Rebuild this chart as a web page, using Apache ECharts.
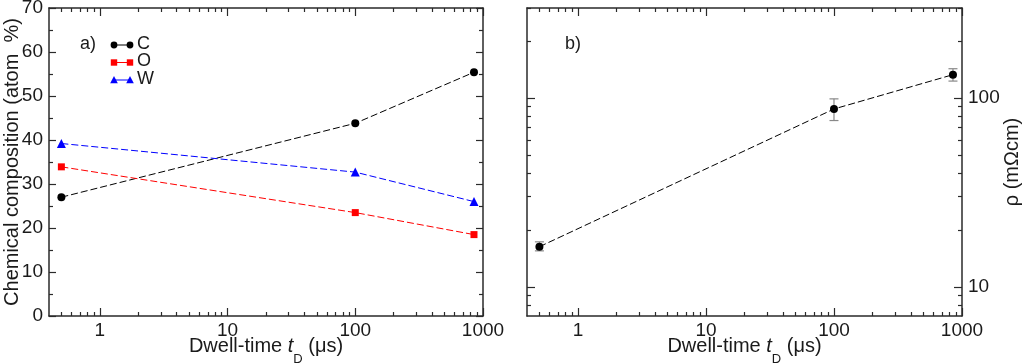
<!DOCTYPE html>
<html>
<head>
<meta charset="utf-8">
<script src="https://cdn.jsdelivr.net/npm/echarts@6/dist/echarts.min.js"></script>
<style>
html,body{margin:0;padding:0;background:#fff;}
#chart{width:1024px;height:363px;}
</style>
</head>
<body>
<div id="chart"></div>
<script>
// ---- data ----
const dwellTime = [0.5, 100, 850];            // t_D (µs)
const carbon    = [27.0, 43.8, 55.4];         // atom %
const oxygen    = [33.9, 23.5, 18.5];
const tungsten  = [39.2, 32.7, 26.0];
const seriesNames = ['C', 'O', 'W'];
const rho       = [16.3, 87.5, 133];          // mΩcm
const rhoLow    = [15.5, 76, 123];
const rhoHigh   = [17.3, 99, 143];
const xMajorTicks = [1, 10, 100, 1000];
const xMinorTicks = [0.5,0.6,0.7,0.8,0.9, 2,3,4,5,6,7,8,9, 20,30,40,50,60,70,80,90, 200,300,400,500,600,700,800,900];
const rhoMajorTicks = [10, 100];
const rhoMinorTicks = [8, 9, 20,30,40,50,60,70,80,90, 200, 300];

const FONT = 'Liberation Sans, Arial, Helvetica, sans-serif';
const TXT = '#1a1a1a';
const AX = '#2a2a2a';
const TICKFS = 19;
const NAMEFS = 20;

function zip(a, b) { return a.map((v, i) => [v, b[i]]); }

const chart = echarts.init(document.getElementById('chart'));

const xName = '{n|Dwell-time }{i|t}{s|D}{n| (μs)}';
const xNameRich = {
  n: {fontSize: NAMEFS, fontFamily: FONT, color: TXT, verticalAlign: 'middle', lineHeight: 38},
  i: {fontSize: NAMEFS, fontFamily: FONT, color: TXT, fontStyle: 'italic', verticalAlign: 'middle', lineHeight: 38},
  s: {fontSize: 13, fontFamily: FONT, color: TXT, verticalAlign: 'bottom', lineHeight: 13}
};

function xAxes(grid, withName) {
  const base = {
    type: 'log', logBase: 10, min: 0.4, max: 1000, gridIndex: grid,
    splitLine: {show: false}
  };
  return [
    Object.assign({}, base, {
      position: 'bottom',
      axisLine: {show: true, lineStyle: {color: AX, width: 1.5}},
      axisTick: {show: true, inside: true, length: 8, customValues: xMajorTicks, lineStyle: {color: AX, width: 1.2}},
      axisLabel: {show: true, customValues: xMajorTicks, fontSize: TICKFS, fontFamily: FONT, color: TXT, margin: 5,
        formatter: v => String(Math.round(v))},
      name: withName ? xName : '', nameLocation: 'middle', nameGap: 11.5, nameMoveOverlap: false,
      nameTextStyle: {rich: xNameRich}
    }),
    Object.assign({}, base, {
      position: 'bottom',
      axisLine: {show: false},
      axisTick: {show: true, inside: true, length: 4, customValues: xMinorTicks, lineStyle: {color: AX, width: 1.2}},
      axisLabel: {show: false}
    }),
    Object.assign({}, base, {
      position: 'top',
      axisLine: {show: true, lineStyle: {color: AX, width: 1.5}},
      axisTick: {show: true, inside: true, length: 8, customValues: xMajorTicks, lineStyle: {color: AX, width: 1.2}},
      axisLabel: {show: false}
    }),
    Object.assign({}, base, {
      position: 'top',
      axisLine: {show: false},
      axisTick: {show: true, inside: true, length: 4, customValues: xMinorTicks, lineStyle: {color: AX, width: 1.2}},
      axisLabel: {show: false}
    })
  ];
}

const yLin = {
  type: 'value', gridIndex: 0, min: 0, max: 70, interval: 10,
  splitLine: {show: false}, minorSplitLine: {show: false},
  axisLine: {show: true, lineStyle: {color: AX, width: 1.5}},
  axisTick: {show: true, inside: true, length: 7, lineStyle: {color: AX, width: 1.2}},
  minorTick: {show: true, splitNumber: 2, length: 4, lineStyle: {color: AX, width: 1.2}}
};

const yLogBase = {
  type: 'log', logBase: 10, min: 7, max: 300, gridIndex: 1,
  splitLine: {show: false}
};

const option = {
  animation: false,
  backgroundColor: '#fff',
  grid: [
    {left: 49, right: 541, top: 8, bottom: 47, outerBoundsMode: 'none', containLabel: false},
    {left: 527, right: 62, top: 8, bottom: 47, outerBoundsMode: 'none', containLabel: false}
  ],
  xAxis: [].concat(xAxes(0, true), xAxes(1, true)),
  yAxis: [
    Object.assign({}, yLin, {
      position: 'left',
      axisLabel: {fontSize: TICKFS, fontFamily: FONT, color: TXT, margin: 6},
      name: 'Chemical composition (atom  %)', nameLocation: 'middle', nameGap: 27, nameMoveOverlap: false,
      nameTextStyle: {fontSize: NAMEFS, fontFamily: FONT, color: TXT}
    }),
    Object.assign({}, yLin, {position: 'right', axisLabel: {show: false}}),
    Object.assign({}, yLogBase, {
      position: 'right',
      axisLine: {show: true, lineStyle: {color: AX, width: 1.5}},
      axisTick: {show: true, inside: true, length: 8, customValues: rhoMajorTicks, lineStyle: {color: AX, width: 1.2}},
      axisLabel: {show: true, customValues: rhoMajorTicks, fontSize: TICKFS, fontFamily: FONT, color: TXT, margin: 6,
        formatter: v => String(Math.round(v))},
      name: 'ρ (mΩcm)', nameLocation: 'middle', nameGap: 40, nameRotate: 90, nameMoveOverlap: false,
      nameTextStyle: {fontSize: NAMEFS, fontFamily: FONT, color: TXT}
    }),
    Object.assign({}, yLogBase, {
      position: 'right',
      axisLine: {show: false},
      axisTick: {show: true, inside: true, length: 4, customValues: rhoMinorTicks, lineStyle: {color: AX, width: 1.2}},
      axisLabel: {show: false}
    }),
    Object.assign({}, yLogBase, {
      position: 'left',
      axisLine: {show: true, lineStyle: {color: AX, width: 1.5}},
      axisTick: {show: true, inside: true, length: 8, customValues: rhoMajorTicks, lineStyle: {color: AX, width: 1.2}},
      axisLabel: {show: false}
    }),
    Object.assign({}, yLogBase, {
      position: 'left',
      axisLine: {show: false},
      axisTick: {show: true, inside: true, length: 4, customValues: rhoMinorTicks, lineStyle: {color: AX, width: 1.2}},
      axisLabel: {show: false}
    })
  ],
  series: [
    {
      name: seriesNames[0], type: 'line', xAxisIndex: 0, yAxisIndex: 0,
      data: zip(dwellTime, carbon), symbol: 'circle', symbolSize: 8,
      itemStyle: {color: '#000'}, lineStyle: {color: '#000', width: 1, type: [7, 3]}
    },
    {
      name: seriesNames[1], type: 'line', xAxisIndex: 0, yAxisIndex: 0,
      data: zip(dwellTime, oxygen), symbol: 'rect', symbolSize: 7,
      itemStyle: {color: '#ff0000'}, lineStyle: {color: '#ff0000', width: 1, type: [7, 3]}
    },
    {
      name: seriesNames[2], type: 'line', xAxisIndex: 0, yAxisIndex: 0,
      data: zip(dwellTime, tungsten), symbol: 'triangle', symbolSize: 9,
      itemStyle: {color: '#0000ff'}, lineStyle: {color: '#0000ff', width: 1, type: [7, 3]}
    },
    {
      name: 'err', type: 'custom', xAxisIndex: 4, yAxisIndex: 2, z: 1,
      data: dwellTime.map((t, i) => [t, rhoLow[i], rhoHigh[i]]),
      renderItem: function (params, api) {
        const lo = api.coord([api.value(0), api.value(1)]);
        const hi = api.coord([api.value(0), api.value(2)]);
        const w = 4.5;
        const st = {stroke: '#888', lineWidth: 1.2};
        return {type: 'group', children: [
          {type: 'line', shape: {x1: lo[0], y1: lo[1], x2: hi[0], y2: hi[1]}, style: st},
          {type: 'line', shape: {x1: lo[0]-w, y1: lo[1], x2: lo[0]+w, y2: lo[1]}, style: st},
          {type: 'line', shape: {x1: hi[0]-w, y1: hi[1], x2: hi[0]+w, y2: hi[1]}, style: st}
        ]};
      }
    },
    {
      name: 'rho', type: 'line', xAxisIndex: 4, yAxisIndex: 2, z: 3,
      data: zip(dwellTime, rho), symbol: 'circle', symbolSize: 8,
      itemStyle: {color: '#000'}, lineStyle: {color: '#000', width: 1, type: [7, 3]}
    }
  ],
  graphic: (function () {
    const g = [
      {type: 'text', left: 80, top: 35, style: {text: 'a)', font: '18px ' + FONT, fill: TXT}},
      {type: 'text', left: 565, top: 35, style: {text: 'b)', font: '18px ' + FONT, fill: TXT}}
    ];
    const colors = ['#000', '#ff0000', '#0000ff'];
    const shapes = ['circle', 'rect', 'triangle'];
    seriesNames.forEach((nm, i) => {
      const y = 45 + 17.5 * i;
      const x1 = 114, x2 = 130;
      g.push({type: 'line', shape: {x1: x1, y1: y, x2: x2, y2: y}, style: {stroke: colors[i], lineWidth: 1}});
      [x1, x2].forEach(x => {
        if (shapes[i] === 'circle') g.push({type: 'circle', shape: {cx: x, cy: y, r: 3.4}, style: {fill: colors[i]}});
        else if (shapes[i] === 'rect') g.push({type: 'rect', shape: {x: x - 3.2, y: y - 3.2, width: 6.4, height: 6.4}, style: {fill: colors[i]}});
        else g.push({type: 'polygon', shape: {points: [[x, y - 4], [x - 3.8, y + 3.2], [x + 3.8, y + 3.2]]}, style: {fill: colors[i]}});
      });
      g.push({type: 'text', left: 137, top: y - 10, style: {text: nm, font: '18px ' + FONT, fill: TXT}});
    });
    return g;
  })()
};

chart.setOption(option);
</script>
</body>
</html>
